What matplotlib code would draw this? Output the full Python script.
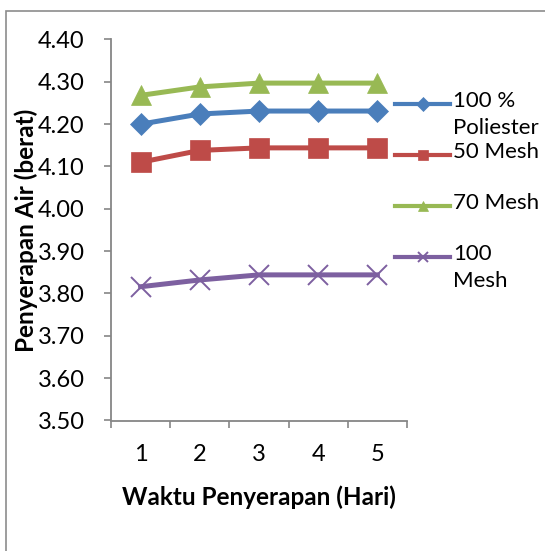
import matplotlib.pyplot as plt
from matplotlib.lines import Line2D
from matplotlib.patches import Rectangle
import numpy as np

plt.rcParams['font.family'] = ['Lato', 'DejaVu Sans']

hari = [1, 2, 3, 4, 5]
poliester = [4.200, 4.224, 4.231, 4.231, 4.231]
mesh50 = [4.110, 4.138, 4.144, 4.144, 4.144]
mesh70 = [4.268, 4.288, 4.297, 4.297, 4.297]
mesh100 = [3.816, 3.832, 3.844, 3.844, 3.844]

labels = ['100 %\nPoliester', '50 Mesh', '70 Mesh', '100\nMesh']
colors = ['#4A7EBB', '#BE4B48', '#98B954', '#7D60A0']
markers = ['D', 's', '^', 'x']
msizes = [11, 14, 15, 14]
series = [poliester, mesh50, mesh70, mesh100]

W, H = 545, 551
fig = plt.figure(figsize=(W / 100, H / 100), dpi=100)
ax = fig.add_axes([111 / W, 1 - 420.5 / H, 296 / W, 381 / H])

# chart border
fig.patches.append(Rectangle((6 / W, -0.05), 1.0, 1 - 11 / H + 0.05,
                             transform=fig.transFigure, fill=False,
                             edgecolor='#8c8c8c', lw=1.2))

for ys, c, m, ms in zip(series, colors, markers, msizes):
    ax.plot(hari, ys, color=c, lw=3.6, marker=m, markersize=ms,
            markeredgewidth=1.4 if m == 'x' else 0.5, markeredgecolor=c,
            markerfacecolor=c, clip_on=False)

ax.set_xlim(0.5, 5.5)
ax.set_ylim(3.50, 4.40)
ax.set_yticks(np.arange(3.5, 4.41, 0.1))
ax.set_yticklabels(['%.2f' % v for v in np.arange(3.5, 4.41, 0.1)])
ax.set_xticks(hari)
ax.set_xticks(np.arange(0.5, 5.6, 1), minor=True)
ax.tick_params(axis='x', which='major', length=0, pad=17, labelsize=17)
ax.tick_params(axis='x', which='minor', length=5, color='#868686', width=1.2)
ax.tick_params(axis='y', length=5, color='#868686', width=1.2, pad=14, labelsize=17)

for s in ['top', 'right']:
    ax.spines[s].set_visible(False)
for s in ['left', 'bottom']:
    ax.spines[s].set_color('#868686')
    ax.spines[s].set_linewidth(1.3)

ax.set_xlabel('Waktu Penyerapan (Hari)', fontsize=17.5, fontweight='bold')
ax.xaxis.set_label_coords(0.5, -(497 - 420.5) / 381, transform=ax.transAxes)
ax.xaxis.label.set_va('center')
ax.set_ylabel('Penyerapan Air (berat)', fontsize=17.5, fontweight='bold')
ax.yaxis.set_label_coords(-(111 - 26) / 296, 0.5)
ax.yaxis.label.set_va('center')

# legend drawn at the right, first text line level with the sample line
leg_y = [104, 155, 206, 257]
for lab, c, m, y in zip(labels, colors, markers, leg_y):
    fy = 1 - y / H
    fig.add_artist(Line2D([395 / W, 450 / W], [fy, fy], transform=fig.transFigure,
                          color=c, lw=3, marker=None))
    fig.add_artist(Line2D([422.5 / W], [fy], transform=fig.transFigure, color=c,
                          marker=m, markersize=7, markeredgewidth=1.4 if m == 'x' else 0.5,
                          markeredgecolor=c, markerfacecolor=c))
    fig.text(453 / W, fy + 13 / H, lab, fontsize=16, va='top', ha='left',
             linespacing=1.45)

fig.savefig('out.png', dpi=100)
